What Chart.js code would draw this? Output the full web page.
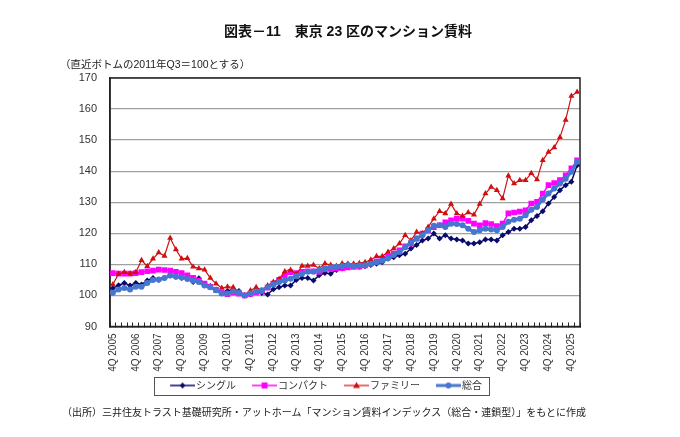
<!DOCTYPE html>
<html><head><meta charset="utf-8">
<script src="https://cdn.jsdelivr.net/npm/chart.js@4.4.1/dist/chart.umd.min.js"></script>
<style>
html,body{margin:0;padding:0;background:#fff;}
#wrap{position:relative;width:680px;height:437px;overflow:hidden;font-family:"Liberation Sans","Noto Sans CJK JP",sans-serif;color:#111;}
canvas{position:absolute;left:0;top:0;}
.t{position:absolute;white-space:nowrap;}
#title{left:0;width:696px;text-align:center;top:23px;font-size:14px;line-height:16px;font-weight:bold;}
#sub{left:60px;top:58px;font-size:10.5px;line-height:13px;color:#222;}
#foot{left:62px;top:406px;font-size:10px;line-height:13px;color:#222;}
</style></head>
<body><div id="wrap">
<canvas id="c" width="680" height="437"></canvas>
<div class="t" id="title">図表－11　東京 23 区のマンション賃料</div>
<div class="t" id="sub">（直近ボトムの2011年Q3＝100とする）</div>
<div class="t" id="foot">（出所）三井住友トラスト基礎研究所・アットホーム「マンション賃料インデックス（総合・連鎖型）」をもとに作成</div>
</div>
<script>
const categories = [
 '4Q 2005',
 '1Q 2006','2Q 2006','3Q 2006','4Q 2006',
 '1Q 2007','2Q 2007','3Q 2007','4Q 2007',
 '1Q 2008','2Q 2008','3Q 2008','4Q 2008',
 '1Q 2009','2Q 2009','3Q 2009','4Q 2009',
 '1Q 2010','2Q 2010','3Q 2010','4Q 2010',
 '1Q 2011','2Q 2011','3Q 2011','4Q 2011',
 '1Q 2012','2Q 2012','3Q 2012','4Q 2012',
 '1Q 2013','2Q 2013','3Q 2013','4Q 2013',
 '1Q 2014','2Q 2014','3Q 2014','4Q 2014',
 '1Q 2015','2Q 2015','3Q 2015','4Q 2015',
 '1Q 2016','2Q 2016','3Q 2016','4Q 2016',
 '1Q 2017','2Q 2017','3Q 2017','4Q 2017',
 '1Q 2018','2Q 2018','3Q 2018','4Q 2018',
 '1Q 2019','2Q 2019','3Q 2019','4Q 2019',
 '1Q 2020','2Q 2020','3Q 2020','4Q 2020',
 '1Q 2021','2Q 2021','3Q 2021','4Q 2021',
 '1Q 2022','2Q 2022','3Q 2022','4Q 2022',
 '1Q 2023','2Q 2023','3Q 2023','4Q 2023',
 '1Q 2024','2Q 2024','3Q 2024','4Q 2024',
 '1Q 2025','2Q 2025','3Q 2025','4Q 2025',
 '1Q 2026'
];
const seriesNames = ['シングル','コンパクト','ファミリー','総合'];
const single = [
 102.3,103.3,104,103.2,104,103.5,104.8,105.6,105,105.6,
 106.4,106,105.6,106,104.3,105.5,103.8,103,101.9,100.8,
 101.4,101.9,101.4,100,100.3,101.3,100.8,100.3,102,102.6,
 103.2,103.2,105,105.6,105.6,104.8,106.5,107.2,107,108.2,
 108.7,109.2,109.4,109.2,109.4,109.8,110.2,110.7,111.8,112.3,
 112.9,113.4,115.1,116.2,117.7,118.3,119.9,118.3,119.4,118.3,
 118,117.7,116.7,116.7,117.1,118,118,117.7,119.4,120.4,
 121.5,121.5,122,124.2,125.6,127.1,129.6,131.7,133.9,135.5,
 136.6,141.9
];
const compact = [
 107.2,107,107,107,107.2,107.5,107.8,108,108.3,108.2,
 108,107.6,107.2,106.5,105.7,104.8,103.8,102.8,101.8,100.8,
 100.4,101,100.6,100,100.5,101,101.3,102.5,103.8,105,
 106.5,107.5,107.2,107.6,107.8,107.8,107.6,108.4,108.5,108.7,
 108.8,109,109.2,109.3,109.7,110.3,111,111.8,112.6,113.5,
 114.5,115.8,116.7,118.3,119.9,121,122,122.6,123.5,124.2,
 124.7,124.7,124,123.1,122.6,123.3,123,122.3,123.1,126.4,
 126.7,127,127.4,129.6,130.1,132.8,135.5,136.2,137.1,138.7,
 140.9,143.5
];
const family = [
 103.5,107,107.5,107,107.5,111.3,109.4,111.8,113.8,112.7,
 118.5,114.8,111.8,112,109.2,108.7,108.3,105.6,103.8,102.4,
 102.8,102.6,101,100,101.6,102.6,101.5,103.2,104.3,105.3,
 107.7,108.2,106.8,109.5,109.5,109.8,108.7,110.3,109.8,109.5,
 110.3,110.2,110.2,110.4,110.7,111.5,112.6,112.6,114,115.1,
 116.7,119.4,117.7,120.4,119.9,122,124.7,127.1,126.4,129.4,
 126.4,125.6,126.7,126,129.4,132.8,134.9,133.9,131.2,138.5,
 136,137.1,137.1,139.3,137.3,143.5,146.2,147.6,150.9,156.5,
 164.2,165.5
];
const total = [
 100.9,101.9,102.4,101.9,102.8,102.8,104,105,105.1,105.6,
 106.4,106,105.8,105.3,104.7,104.3,103.2,102.6,101.7,100.6,
 100.6,101.3,100.9,100,100.6,101.3,101.7,102.6,103.5,104.3,
 104.8,105.4,106.2,107,107.6,107.6,108.2,108.7,109,109.2,
 109.5,109.8,109.5,109.6,109.7,110.2,110.7,111.2,112,113,
 114,115.5,117.1,118.3,119.4,121,122.4,122.6,122,123.1,
 123,122.6,121.5,120.4,121,121.5,121.2,121,122,123.7,
 124.4,124.7,125.8,127.6,128.5,130.9,132.8,134.4,136,137.6,
 139.8,143
];
const yTicks = [90,100,110,120,130,140,150,160,170];

const C_SINGLE = '#0a0a6a', C_COMPACT = '#ff00ff', C_FAMILY = '#d01010', C_TOTAL = '#4577d0';

// legend glyph: short line with the series marker in its middle
const ICON_W = 28, ICON_CW = 36;
function icon(color, shape, lw) {
  const cv = document.createElement('canvas');
  cv.width = ICON_CW; cv.height = 10;
  const g = cv.getContext('2d');
  const x0 = 11, x1 = 36, cx = 23.5;
  g.strokeStyle = color; g.fillStyle = color; g.lineWidth = lw;
  g.beginPath(); g.moveTo(x0, 5); g.lineTo(x1, 5); g.stroke();
  g.beginPath();
  if (shape === 'diamond') { g.moveTo(cx,2); g.lineTo(cx+3,5); g.lineTo(cx,8); g.lineTo(cx-3,5); g.closePath(); }
  else if (shape === 'square') { g.rect(cx-3,2,6,6); }
  else if (shape === 'triangle') { g.moveTo(cx,1.5); g.lineTo(cx+3.5,7.5); g.lineTo(cx-3.5,7.5); g.closePath(); }
  else { g.arc(cx,5,3,0,Math.PI*2); }
  g.fill();
  return cv;
}
const icons = [icon(C_SINGLE,'diamond',1.5), icon(C_COMPACT,'square',1.5), icon(C_FAMILY,'triangle',1.2), icon(C_TOTAL,'circle',3)];

const framePlugin = {
  id: 'frame',
  beforeDatasetsDraw(chart) {
    const a = chart.chartArea, c = chart.ctx;
    c.save(); c.strokeStyle = '#222'; c.lineWidth = 1.5;
    c.strokeRect(a.left, a.top, a.right - a.left, a.bottom - a.top);
    c.restore();
  }
};
const legendBoxPlugin = {
  id: 'legendBox',
  afterDraw(chart) {
    const lg = chart.legend;
    if (!lg || !lg.legendHitBoxes || !lg.legendHitBoxes.length) return;
    let l = Infinity, r = -Infinity, t = Infinity, b = -Infinity;
    lg.legendHitBoxes.forEach(h => { l = Math.min(l, h.left); r = Math.max(r, h.left + h.width); t = Math.min(t, h.top); b = Math.max(b, h.top + h.height); });
    const c = chart.ctx;
    c.save(); c.strokeStyle = '#555'; c.lineWidth = 1;
    c.strokeRect(Math.round(l - 9) + 0.5, Math.round(t - 4) + 0.5, Math.round(r - l + 16), Math.round(b - t + 8));
    c.restore();
  }
};

new Chart(document.getElementById('c'), {
  type: 'line',
  data: {
    labels: categories,
    datasets: [
      {label: seriesNames[0], data: single, borderColor: C_SINGLE, backgroundColor: C_SINGLE, borderWidth: 1.5,
       pointStyle: 'rectRot', pointRadius: 3, pointBorderWidth: 0, order: 3},
      {label: seriesNames[1], data: compact, borderColor: C_COMPACT, backgroundColor: C_COMPACT, borderWidth: 1.5,
       pointStyle: 'rect', pointRadius: 4, pointBorderWidth: 0, order: 2},
      {label: seriesNames[2], data: family, borderColor: C_FAMILY, backgroundColor: C_FAMILY, borderWidth: 1.2,
       pointStyle: 'triangle', pointRadius: 3.5, pointBorderWidth: 0, order: 1},
      {label: seriesNames[3], data: total, borderColor: C_TOTAL, backgroundColor: C_TOTAL, borderWidth: 3,
       pointStyle: 'circle', pointRadius: 3, pointBorderWidth: 0, order: 0}
    ]
  },
  options: {
    responsive: false,
    animation: false,
    devicePixelRatio: 1,
    layout: {padding: {left: 0, right: 35, top: 78, bottom: 36.5}},
    elements: {line: {tension: 0}},
    scales: {
      x: {
        offset: true,
        grid: {offset: true, drawOnChartArea: false, tickLength: -4, color: '#222', lineWidth: 1},
        border: {color: '#222', width: 1.5},
        ticks: {
          autoSkip: false, maxRotation: 90, minRotation: 90, padding: 11,
          font: {family: '"Liberation Sans", Arial, sans-serif', size: 10}, color: '#333',
          callback: function (v) { const l = this.getLabelForValue(v); return l.startsWith('4Q') ? l : ''; }
        },
        afterFit(s) { s.height = 45; }
      },
      y: {
        min: yTicks[0], max: yTicks[yTicks.length - 1],
        afterBuildTicks(s) { s.ticks = yTicks.map(v => ({value: v})); },
        grid: {color: '#a0a0a0', lineWidth: 1.3, drawTicks: false},
        border: {color: '#222', width: 1.5},
        ticks: {padding: 13, font: {family: '"Liberation Sans", Arial, sans-serif', size: 11}, color: '#333'},
        afterFit(s) { s.width = 110; }
      },
      y2: {
        position: 'right', display: true,
        grid: {drawOnChartArea: false, drawTicks: false},
        border: {display: false},
        ticks: {display: false},
        afterFit(s) { s.width = 65; }
      }
    },
    plugins: {
      legend: {
        position: 'bottom',
        labels: {
          usePointStyle: true, pointStyleWidth: ICON_W, padding: 9,
          font: {family: '"Noto Sans CJK JP", sans-serif', size: 10}, color: '#333',
          sort: (a, b) => a.datasetIndex - b.datasetIndex,
          generateLabels(chart) {
            return chart.data.datasets.map((d, i) => ({
              text: d.label, datasetIndex: i, pointStyle: icons[i], fillStyle: d.borderColor,
              strokeStyle: d.borderColor, lineWidth: 0, hidden: false, fontColor: '#333'
            }));
          }
        }
      },
      tooltip: {enabled: false}
    }
  },
  plugins: [framePlugin, legendBoxPlugin]
});
</script>
</body></html>
